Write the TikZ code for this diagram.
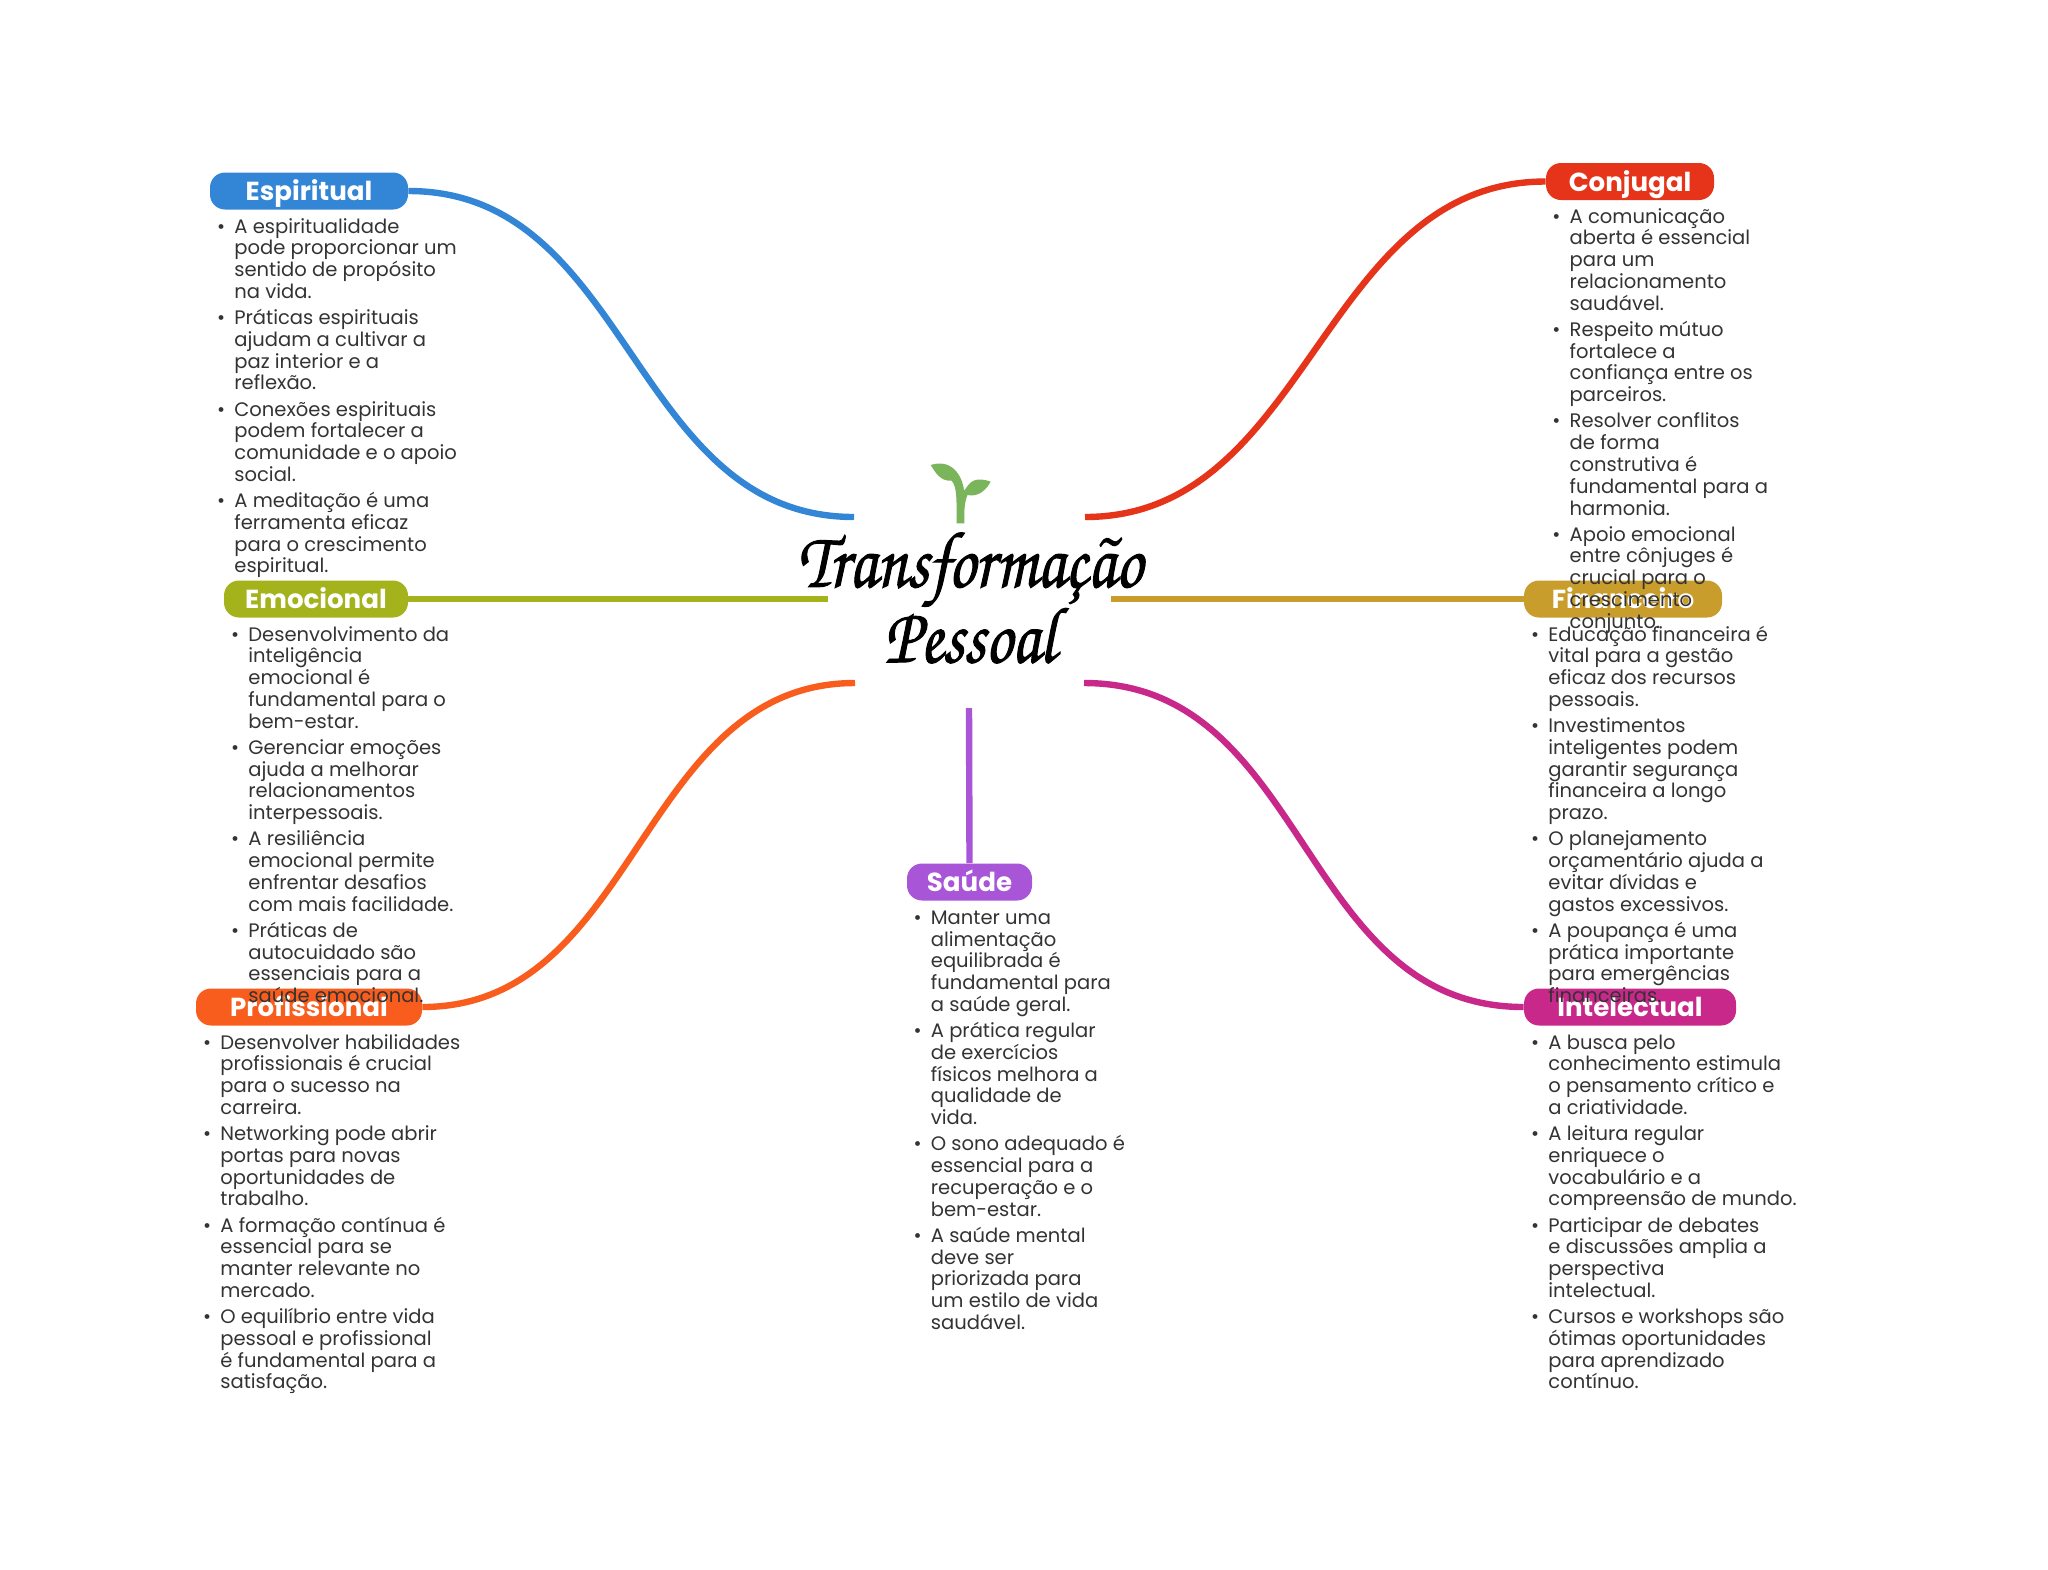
\documentclass[tikz,border=0pt]{standalone}
\usepackage{fontspec}
\setmainfont{Poppins}
\newfontfamily\pilfont{Poppins}[UprightFont=* Bold]
\newfontfamily\calfont{TeX Gyre Chorus}[FakeStretch=0.83,FakeBold=1.2]
\definecolor{cblue}{HTML}{3385D6}
\definecolor{colive}{HTML}{A4B31B}
\definecolor{corange}{HTML}{F95D1E}
\definecolor{cred}{HTML}{E5341A}
\definecolor{cgold}{HTML}{C89D2C}
\definecolor{cmag}{HTML}{C7288A}
\definecolor{cpur}{HTML}{A855D8}
\definecolor{cleaf}{HTML}{7AB55C}
\definecolor{ctext}{HTML}{333333}
\newcommand{\bul}{\leavevmode\rule{0pt}{8pt}\llap{•\hspace{4.6pt}}}
\newcommand{\nxt}{\\[2.15pt]\bul }
\tikzset{
  pill/.style={fill=#1,rounded corners=7.5pt,inner sep=0pt,minimum height=18.5pt,text height=10.45pt,text depth=0.85pt,text=white,font=\pilfont\fontsize{13.05}{15}\selectfont},
  bodytxt/.style={anchor=north west,inner sep=0pt,align=left,text=ctext,font=\fontsize{9.77}{10.9}\selectfont},
  link/.style={draw=#1,line width=3.2pt},
  titletxt/.style={align=center,inner sep=0pt,font=\calfont\fontsize{40}{37.7}\selectfont}
}
\begin{document}
\begin{tikzpicture}[x=0.5pt,y=-0.5pt]
\useasboundingbox (0,0) rectangle (2048,1569);
% centre
\node[titletxt] (title) at (970,598) {Transformação\\Pessoal};
\begin{scope}[shift={(760,430)},scale=1/3]
\fill[cleaf] (590,280) -- (613,280) .. controls (613,240) and (612,225) .. (622,195)
  .. controls (640,198) and (668,198) .. (692,155) .. controls (665,145) and (640,145) .. (625,165)
  .. controls (620,172) and (615,178) .. (612,182) .. controls (610,160) and (600,135) .. (585,120)
  .. controls (565,100) and (540,96) .. (512,105) .. controls (525,125) and (540,155) .. (575,152)
  .. controls (590,170) and (590,200) .. (590,280) -- cycle;
\end{scope}
\coordinate (cBlue) at (854,517);
\coordinate (cRed) at (1085,517);
\coordinate (cOlive) at (828,599);
\coordinate (cGold) at (1111,599);
\coordinate (cOrange) at (855,683);
\coordinate (cMag) at (1084,683);
\coordinate (cPur) at (969,708);
% pills
\node[pill=cblue,minimum width=99pt] (esp) at (309,191) {Espiritual};
\node[pill=colive,minimum width=92pt] (emo) at (316,599) {Emocional};
\node[pill=corange,minimum width=113pt] (pro) at (309,1007) {Profissional};
\node[pill=cred,minimum width=84pt] (con) at (1630,181.5) {Conjugal};
\node[pill=cgold,minimum width=99pt] (fin) at (1623,599) {Financeiro};
\node[pill=cmag,minimum width=106pt] (int) at (1630,1007) {Intelectual};
\node[pill=cpur,minimum width=62.5pt] (sau) at (969.5,882) {Saúde};
% connectors
\draw[link=cblue] (esp.east) .. controls +(223,0) and +(-223,0) .. (cBlue);
\draw[link=cred] (con.west) .. controls +(-225,0) and +(225,0) .. (cRed);
\draw[link=colive] (emo.east) -- (cOlive);
\draw[link=cgold] (fin.west) -- (cGold);
\draw[link=corange] (pro.east) .. controls +(216,0) and +(-216,0) .. (cOrange);
\draw[link=cmag] (int.west) .. controls +(-225,0) and +(225,0) .. (cMag);
\draw[link=cpur] (cPur) -- (sau.north);
% texts
\node[bodytxt] (espT) at (234,216.6) {\bul A espiritualidade\\pode proporcionar um\\sentido de propósito\\na vida.\nxt Práticas espirituais\\ajudam a cultivar a\\paz interior e a\\reflexão.\nxt Conexões espirituais\\podem fortalecer a\\comunidade e o apoio\\social.\nxt A meditação é uma\\ferramenta eficaz\\para o crescimento\\espiritual.};
\node[bodytxt] (emoT) at (248,624.6) {\bul Desenvolvimento da\\inteligência\\emocional é\\fundamental para o\\bem-estar.\nxt Gerenciar emoções\\ajuda a melhorar\\relacionamentos\\interpessoais.\nxt A resiliência\\emocional permite\\enfrentar desafios\\com mais facilidade.\nxt Práticas de\\autocuidado são\\essenciais para a\\saúde emocional.};
\node[bodytxt] (proT) at (220,1032.6) {\bul Desenvolver habilidades\\profissionais é crucial\\para o sucesso na\\carreira.\nxt Networking pode abrir\\portas para novas\\oportunidades de\\trabalho.\nxt A formação contínua é\\essencial para se\\manter relevante no\\mercado.\nxt O equilíbrio entre vida\\pessoal e profissional\\é fundamental para a\\satisfação.};
\node[bodytxt] (sauT) at (930.5,907.8) {\bul Manter uma\\alimentação\\equilibrada é\\fundamental para\\a saúde geral.\nxt A prática regular\\de exercícios\\físicos melhora a\\qualidade de\\vida.\nxt O sono adequado é\\essencial para a\\recuperação e o\\bem-estar.\nxt A saúde mental\\deve ser\\priorizada para\\um estilo de vida\\saudável.};
\node[bodytxt] (conT) at (1569.3,206.6) {\bul A comunicação\\aberta é essencial\\para um\\relacionamento\\saudável.\nxt Respeito mútuo\\fortalece a\\confiança entre os\\parceiros.\nxt Resolver conflitos\\de forma\\construtiva é\\fundamental para a\\harmonia.\nxt Apoio emocional\\entre cônjuges é\\crucial para o\\crescimento\\conjunto.};
\node[bodytxt] (finT) at (1548,624.6) {\bul Educação financeira é\\vital para a gestão\\eficaz dos recursos\\pessoais.\nxt Investimentos\\inteligentes podem\\garantir segurança\\financeira a longo\\prazo.\nxt O planejamento\\orçamentário ajuda a\\evitar dívidas e\\gastos excessivos.\nxt A poupança é uma\\prática importante\\para emergências\\financeiras.};
\node[bodytxt] (intT) at (1548,1032.6) {\bul A busca pelo\\conhecimento estimula\\o pensamento crítico e\\a criatividade.\nxt A leitura regular\\enriquece o\\vocabulário e a\\compreensão de mundo.\nxt Participar de debates\\e discussões amplia a\\perspectiva\\intelectual.\nxt Cursos e workshops são\\ótimas oportunidades\\para aprendizado\\contínuo.};
\end{tikzpicture}
\end{document}
